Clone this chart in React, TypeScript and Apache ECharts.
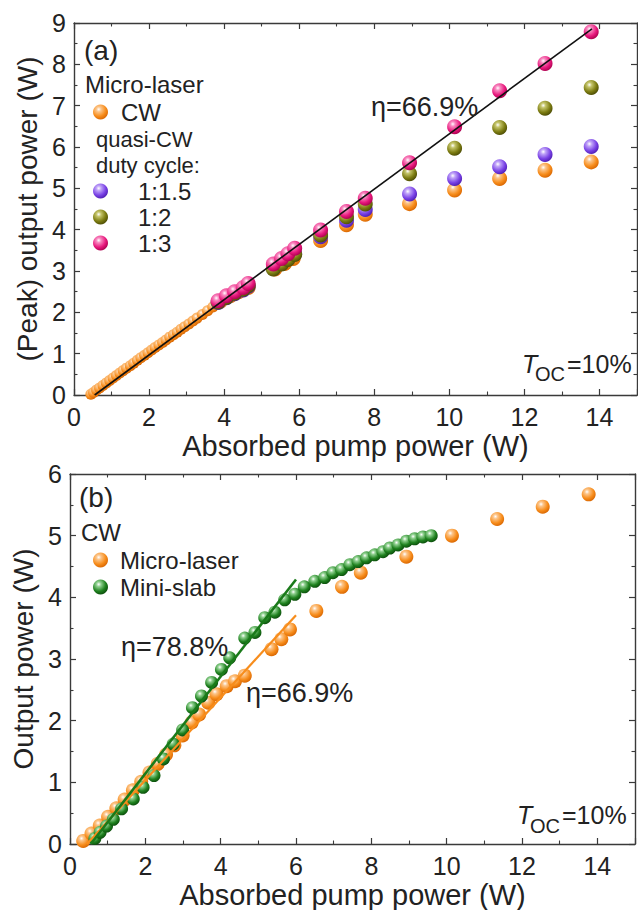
import React, { useEffect, useRef } from "react";
import * as echarts from "echarts";

// ---------- data: panel (a) ----------
const topCwX = [0.45, 0.52, 0.6, 0.68, 0.77, 0.86, 0.95, 1.04, 1.13, 1.22, 1.31, 1.4, 1.5, 1.59, 1.69, 1.78, 1.88, 1.97, 2.07, 2.16, 2.26, 2.36, 2.45, 2.55, 2.65, 2.75, 2.85, 2.95, 3.06, 3.17, 3.28, 3.42, 3.56, 3.7, 3.89, 4.16, 4.38, 4.64, 5.35, 5.61, 5.84, 6.57, 7.26, 7.76, 8.94, 10.14, 11.34, 12.55, 13.78];
const topCwY = [0.02, 0.06, 0.12, 0.17, 0.23, 0.29, 0.35, 0.41, 0.47, 0.53, 0.59, 0.65, 0.71, 0.77, 0.84, 0.9, 0.96, 1.02, 1.09, 1.15, 1.21, 1.27, 1.33, 1.4, 1.46, 1.52, 1.59, 1.65, 1.72, 1.79, 1.86, 1.95, 2.04, 2.13, 2.26, 2.4, 2.5, 2.6, 3.05, 3.18, 3.3, 3.74, 4.12, 4.37, 4.63, 4.96, 5.24, 5.44, 5.64];
const qcwX = [3.84, 4.06, 4.28, 4.51, 4.64, 5.31, 5.53, 5.7, 5.88, 6.57, 7.26, 7.76, 8.94, 10.14, 11.34, 12.55, 13.78];
const duty15Y = [2.24, 2.35, 2.45, 2.54, 2.63, 3.06, 3.18, 3.3, 3.42, 3.83, 4.23, 4.49, 4.86, 5.24, 5.52, 5.82, 6.01];
const duty2Y = [2.25, 2.36, 2.46, 2.56, 2.65, 3.05, 3.17, 3.28, 3.4, 3.87, 4.31, 4.62, 5.35, 5.97, 6.47, 6.94, 7.44];
const duty3Y = [2.28, 2.4, 2.5, 2.6, 2.7, 3.17, 3.3, 3.42, 3.55, 3.99, 4.44, 4.76, 5.62, 6.49, 7.36, 8.02, 8.79];
const topFitX = [0.55, 13.8];
const topFitY = [0, 8.86];

// ---------- data: panel (b) ----------
const microX = [0.35, 0.57, 0.79, 1.01, 1.23, 1.45, 1.67, 1.89, 2.11, 2.33, 2.55, 2.77, 2.99, 3.23, 3.43, 3.67, 3.89, 4.16, 4.38, 4.64, 5.35, 5.61, 5.84, 6.54, 7.22, 7.72, 8.93, 10.14, 11.34, 12.55, 13.77];
const microY = [0.05, 0.17, 0.3, 0.44, 0.58, 0.72, 0.87, 1.01, 1.16, 1.3, 1.45, 1.6, 1.76, 1.97, 2.1, 2.29, 2.43, 2.56, 2.64, 2.73, 3.16, 3.32, 3.48, 3.78, 4.17, 4.4, 4.66, 5.0, 5.27, 5.47, 5.67];
const slabX = [0.66, 0.8, 0.97, 1.15, 1.37, 1.68, 1.94, 2.23, 2.48, 2.74, 2.99, 3.25, 3.49, 3.76, 4.02, 4.24, 4.64, 4.91, 5.17, 5.44, 5.7, 5.97, 6.22, 6.5, 6.76, 6.98, 7.21, 7.43, 7.65, 7.87, 8.09, 8.31, 8.49, 8.71, 8.93, 9.15, 9.37, 9.59];
const slabY = [0.09, 0.19, 0.29, 0.4, 0.57, 0.73, 0.92, 1.11, 1.38, 1.62, 1.85, 2.21, 2.4, 2.62, 2.83, 3.02, 3.34, 3.43, 3.67, 3.76, 3.96, 4.05, 4.17, 4.26, 4.32, 4.4, 4.45, 4.53, 4.58, 4.64, 4.69, 4.74, 4.8, 4.85, 4.91, 4.95, 4.98, 5.0];
const microFitX = [0.45, 6.0];
const microFitY = [0, 3.71];
const slabFitX = [0.55, 6.0];
const slabFitY = [0, 4.29];

const zip = (xs: number[], ys: number[]) => xs.map((x, i) => [x, ys[i]]);

const FONT = '"Liberation Sans", Arial, Helvetica, sans-serif';
const AX = "#3a3a3a";

const ball = (light: string, base: string, dark: string) => ({
  type: "radial",
  x: 0.38,
  y: 0.32,
  r: 0.72,
  colorStops: [
    { offset: 0, color: "#ffffff" },
    { offset: 0.22, color: light },
    { offset: 0.65, color: base },
    { offset: 1, color: dark },
  ],
});

const ORANGE = ball("#fcc58a", "#f78d1c", "#d86500");
const PURPLE = ball("#c0a4f8", "#7a42e6", "#4d1cb0");
const OLIVE = ball("#c4c46a", "#7d7d12", "#4a4a04");
const PINK = ball("#f889c0", "#e8187d", "#a8004c");
const GREEN = ball("#8fd08f", "#1f821f", "#0a4a0a");

function mkX(grid: number, top: boolean, withName: boolean) {
  return {
    type: "value",
    gridIndex: grid,
    position: top ? "top" : "bottom",
    min: 0,
    max: 15,
    interval: 2,
    name: withName ? "Absorbed pump power (W)" : "",
    nameLocation: "middle",
    nameGap: 36,
    nameTextStyle: { fontFamily: FONT, fontSize: 29, color: "#222" },
    axisLine: { show: true, onZero: false, lineStyle: { color: AX, width: 1.4 } },
    axisTick: { show: true, inside: true, length: 6, lineStyle: { color: AX, width: 1.2 } },
    minorTick: { show: true, splitNumber: 2, length: 3.5, lineStyle: { color: AX, width: 1.1 } },
    axisLabel: {
      show: !top,
      margin: 9,
      showMaxLabel: false,
      fontFamily: FONT,
      fontSize: 25,
      color: "#222",
    },
    splitLine: { show: false },
  };
}

function mkY(grid: number, right: boolean, max: number, name: string, gap: number) {
  return {
    type: "value",
    gridIndex: grid,
    position: right ? "right" : "left",
    min: 0,
    max,
    interval: 1,
    name,
    nameLocation: "middle",
    nameGap: gap,
    nameTextStyle: { fontFamily: FONT, fontSize: 28, color: "#222" },
    axisLine: { show: true, onZero: false, lineStyle: { color: AX, width: 1.4 } },
    axisTick: { show: true, inside: true, length: 6, lineStyle: { color: AX, width: 1.2 } },
    minorTick: { show: true, splitNumber: 2, length: 3.5, lineStyle: { color: AX, width: 1.1 } },
    axisLabel: { show: !right, margin: 8, fontFamily: FONT, fontSize: 25, color: "#222" },
    splitLine: { show: false },
  };
}

function txt(x: number, y: number, text: string, size = 24, extra: any = {}) {
  return {
    type: "text",
    x,
    y,
    z: 100,
    style: {
      text,
      fill: "#222",
      fontFamily: FONT,
      fontSize: size,
      align: "left",
      verticalAlign: "middle",
      ...extra,
    },
  };
}

function scatter(name: string, data: number[][], color: any, size: any, xi: number, yi: number, z = 2) {
  return {
    name,
    type: "scatter",
    xAxisIndex: xi,
    yAxisIndex: yi,
    data,
    symbol: "circle",
    symbolSize: size,
    z,
    itemStyle: { color, opacity: 1 },
    emphasis: { disabled: true },
  };
}

function fitLine(data: number[][], color: string, width: number, xi: number, yi: number) {
  return {
    type: "line",
    xAxisIndex: xi,
    yAxisIndex: yi,
    data,
    symbol: "none",
    z: 10,
    lineStyle: { color, width },
    silent: true,
  };
}

export default function App() {
  const ref = useRef<HTMLDivElement>(null);
  useEffect(() => {
    if (!ref.current) return;
    const chart = echarts.init(ref.current, undefined, { renderer: "svg" });
    const legendText = (pad: number) => ({
      fontFamily: FONT,
      fontSize: 24,
      color: "#222",
      lineHeight: 26,
      padding: [0, 0, 0, pad],
    });
    chart.setOption({
      animation: false,
      backgroundColor: "#ffffff",
      grid: [
        { left: 74, top: 23, width: 563, height: 372 },
        { left: 70, top: 474, width: 565, height: 371 },
      ],
      xAxis: [mkX(0, false, true), mkX(0, true, false), mkX(1, false, true), mkX(1, true, false)],
      yAxis: [
        mkY(0, false, 9, "(Peak) output power (W)", 32),
        mkY(0, true, 9, "", 0),
        mkY(1, false, 6, "Output power (W)", 30),
        mkY(1, true, 6, "", 0),
      ],
      legend: [
        {
          data: ["CW"],
          left: 93,
          top: 99,
          orient: "vertical",
          padding: 0,
          itemWidth: 15,
          itemHeight: 15,
          selectedMode: false,
          textStyle: legendText(8),
        },
        {
          data: ["1:1.5", "1:2", "1:3"],
          left: 93,
          top: 178,
          orient: "vertical",
          padding: 0,
          itemGap: 0,
          itemWidth: 15,
          itemHeight: 15,
          selectedMode: false,
          textStyle: legendText(25),
        },
        {
          data: ["Micro-laser", "Mini-slab"],
          left: 93,
          top: 547,
          orient: "vertical",
          padding: 0,
          itemGap: 1,
          itemWidth: 15,
          itemHeight: 15,
          selectedMode: false,
          textStyle: legendText(7),
        },
      ],
      series: [
        scatter("CW", zip(topCwX, topCwY), ORANGE, (v: number[]) => (v[0] > 3.8 ? 15 : 11), 0, 0, 2),
        scatter("1:1.5", zip(qcwX, duty15Y), PURPLE, 15, 0, 0, 3),
        scatter("1:2", zip(qcwX, duty2Y), OLIVE, 15, 0, 0, 4),
        scatter("1:3", zip(qcwX, duty3Y), PINK, 15, 0, 0, 5),
        fitLine(zip(topFitX, topFitY), "#111111", 1.6, 0, 0),
        scatter("Micro-laser", zip(microX, microY), ORANGE, 14, 2, 2, 2),
        fitLine(zip(microFitX, microFitY), "#f78d1c", 2.2, 2, 2),
        scatter("Mini-slab", zip(slabX, slabY), GREEN, 13, 2, 2, 4),
        fitLine(zip(slabFitX, slabFitY), "#1a7a1a", 2.6, 2, 2),
      ],
      graphic: [
        txt(84, 50, "(a)", 28),
        txt(85, 84, "Micro-laser", 24),
        txt(96, 139, "quasi-CW", 22),
        txt(96, 165, "duty cycle:", 22),
        txt(371, 107, "η=66.9%", 27),
        txt(522, 364, "T", 25, { fontStyle: "italic" }),
        txt(535, 374, "OC", 20),
        txt(567, 364, "=10%", 25),
        txt(79, 497, "(b)", 28),
        txt(81, 532, "CW", 24),
        txt(121, 647, "η=78.8%", 27),
        txt(246, 693, "η=66.9%", 27),
        txt(517, 815, "T", 25, { fontStyle: "italic" }),
        txt(530, 826, "OC", 20),
        txt(562, 815, "=10%", 25),
      ],
    });
    return () => chart.dispose();
  }, []);
  return (
    <div
      ref={ref}
      style={{ position: "fixed", left: 0, top: 0, width: 638, height: 910, background: "#fff" }}
    />
  );
}
